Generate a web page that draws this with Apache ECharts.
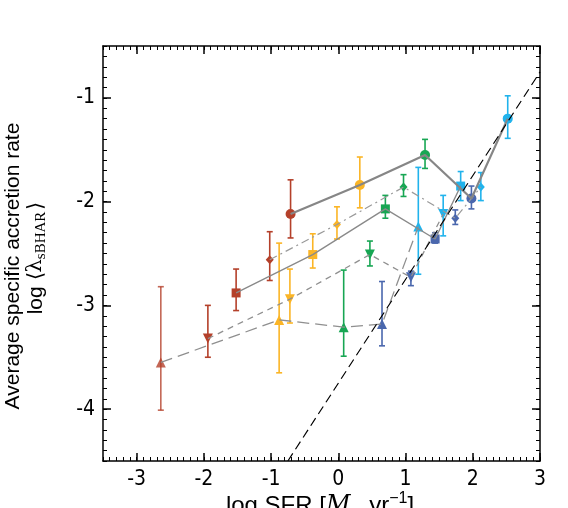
<!DOCTYPE html>
<html><head><meta charset="utf-8">
<script src="https://cdn.jsdelivr.net/npm/echarts@6/dist/echarts.min.js"></script>
<style>html,body{margin:0;padding:0;background:#fff}#c{width:568px;height:508px}</style>
</head><body><div id="c"></div><script>
// Axis tick labels
const xTicks = [-3, -2, -1, 0, 1, 2, 3];
const yTicks = [-4, -3, -2, -1];
// Order inside every group: [triangle-up, triangle-down, square, diamond, circle]
const redX  = [-2.64, -1.94, -1.52, -1.02, -0.71];
const redY  = [-3.55, -3.32, -2.88, -2.56, -2.12];
const redHi = [-2.82, -3.00, -2.65, -2.29, -1.79];
const redLo = [-4.01, -3.50, -3.05, -2.76, -2.35];

const orangeX  = [-0.88, -0.72, -0.38, -0.02, 0.32];
const orangeY  = [-3.14, -2.94, -2.51, -2.22, -1.84];
const orangeHi = [-2.40, -2.65, -2.31, -2.05, -1.57];
const orangeLo = [-3.65, -3.17, -2.64, -2.36, -2.06];

const greenX  = [0.08, 0.47, 0.70, 0.97, 1.29];
const greenY  = [-3.21, -2.51, -2.07, -1.86, -1.55];
const greenHi = [-2.66, -2.38, -1.94, -1.74, -1.40];
const greenLo = [-3.49, -2.62, -2.16, -1.95, -1.68];

const dblueX  = [0.65, 1.08, 1.44, 1.74, 1.98];
const dblueY  = [-3.18, -2.73, -2.36, -2.16, -1.97];
const dblueHi = [-2.77, -2.67, -2.30, -2.08, -1.85];
const dblueLo = [-3.39, -2.81, -2.40, -2.22, -2.07];

const lblueX  = [1.19, 1.56, 1.82, 2.12, 2.52];
const lblueY  = [-2.24, -2.12, -1.85, -1.86, -1.20];
const lblueHi = [-1.67, -1.94, -1.71, -1.72, -0.98];
const lblueLo = [-2.70, -2.33, -1.99, -1.99, -1.39];

// one-to-one reference line (dashed black)
const refLineX = [-0.75, 3.0];
const refLineY = [-4.5, -0.75];

const groups = [
  {x: redX, y: redY, hi: redHi, lo: redLo, color: '#b4402a'},
  {x: orangeX, y: orangeY, hi: orangeHi, lo: orangeLo, color: '#fbb526'},
  {x: greenX, y: greenY, hi: greenHi, lo: greenLo, color: '#17a653'},
  {x: dblueX, y: dblueY, hi: dblueHi, lo: dblueLo, color: '#4a67ad'},
  {x: lblueX, y: lblueY, hi: lblueHi, lo: lblueLo, color: '#21b3ec'}
];
const shapes = [
  {symbol: 'triangle', size: 10, rot: 0},
  {symbol: 'triangle', size: 10, rot: 180},
  {symbol: 'rect', size: 9, rot: 0},
  {symbol: 'diamond', size: [8, 9], rot: 0},
  {symbol: 'circle', size: 10, rot: 0}
];
const lineStyles = [
  {type: [12, 6], width: 1.3, color: '#8f8f8f'},
  {type: [6, 5], width: 1.3, color: '#8f8f8f'},
  {type: 'solid', width: 1.4, color: '#8a8a8a'},
  {type: [8, 4, 2, 4], width: 1.2, color: '#9a9a9a'},
  {type: 'solid', width: 2.2, color: '#868686'}
];

const XMIN = -3.5, XMAX = 3, YMIN = -4.5, YMAX = -0.5;
const FONT = '"Liberation Sans", Arial, Helvetica, sans-serif';
const TICKFONT = '"Liberation Sans Narrow", "DejaVu Sans Condensed", "Liberation Sans", sans-serif';

function xAxisDef(pos, major) {
  return {
    type: 'value', gridIndex: 0, position: pos, min: XMIN, max: XMAX,
    interval: major ? 0.5 : 0.1,
    axisLine: {show: !major, onZero: false, lineStyle: {color: '#000', width: 1.5}},
    axisTick: major ? {show: true, inside: true, length: 8, customValues: xTicks, lineStyle: {color: '#000', width: 1.5}}
                    : {show: true, inside: true, length: 4, lineStyle: {color: '#000', width: 1}},
    axisLabel: (major && pos === 'bottom') ? {show: true, customValues: xTicks, margin: 8, color: '#000', fontSize: 21, fontFamily: TICKFONT} : {show: false},
    splitLine: {show: false}
  };
}
function yAxisDef(pos, major) {
  return {
    type: 'value', gridIndex: 0, position: pos, min: YMIN, max: YMAX,
    interval: major ? 0.5 : 0.1,
    axisLine: {show: !major, onZero: false, lineStyle: {color: '#000', width: 1.5}},
    axisTick: major ? {show: true, inside: true, length: 8, customValues: yTicks, lineStyle: {color: '#000', width: 1.5}}
                    : {show: true, inside: true, length: 4, lineStyle: {color: '#000', width: 1}},
    axisLabel: (major && pos === 'left') ? {show: true, customValues: yTicks, margin: 8, color: '#000', fontSize: 21, fontFamily: TICKFONT} : {show: false},
    splitLine: {show: false}
  };
}

const series = [];
groups.forEach(function (g, gi) {
  series.push({
    type: 'custom', xAxisIndex: 0, yAxisIndex: 0, z: 1, silent: true,
    data: g.x.map(function (v, i) { return [v, g.lo[i], g.hi[i]]; }),
    renderItem: function (params, api) {
      const x = api.value(0);
      const p1 = api.coord([x, api.value(2)]);
      const p2 = api.coord([x, api.value(1)]);
      const w = 3;
      const st = {stroke: g.color, lineWidth: 1.6, opacity: (gi === 0 && params.dataIndex === 0) ? 0.8 : 1};
      return {type: 'group', children: [
        {type: 'line', shape: {x1: p1[0], y1: p1[1], x2: p2[0], y2: p2[1]}, style: st},
        {type: 'line', shape: {x1: p1[0] - w, y1: p1[1], x2: p1[0] + w, y2: p1[1]}, style: st},
        {type: 'line', shape: {x1: p2[0] - w, y1: p2[1], x2: p2[0] + w, y2: p2[1]}, style: st}
      ]};
    }
  });
  series.push({
    type: 'scatter', xAxisIndex: 0, yAxisIndex: 0, z: 2, silent: true,
    data: g.x.map(function (v, i) {
      return {value: [v, g.y[i]], symbol: shapes[i].symbol, symbolSize: shapes[i].size, symbolRotate: shapes[i].rot,
              itemStyle: {opacity: (gi === 0 && i === 0) ? 0.8 : 1}};
    }),
    itemStyle: {color: g.color}
  });
});
shapes.forEach(function (s, si) {
  series.push({
    type: 'line', xAxisIndex: 0, yAxisIndex: 0, z: 3, silent: true, symbol: 'none',
    data: groups.map(function (g) { return [g.x[si], g.y[si]]; }),
    lineStyle: {type: lineStyles[si].type, width: lineStyles[si].width, color: lineStyles[si].color}
  });
});
series.push({
  type: 'line', xAxisIndex: 0, yAxisIndex: 0, z: 4, silent: true, symbol: 'none',
  data: refLineX.map(function (v, i) { return [v, refLineY[i]]; }),
  lineStyle: {type: [9, 5], width: 1.2, color: '#000'}
});

const chart = echarts.init(document.getElementById('c'), null, {renderer: 'canvas'});
chart.setOption({
  animation: false,
  backgroundColor: '#fff',
  grid: {left: 103, right: 28, top: 46, bottom: 47, containLabel: false},
  xAxis: [xAxisDef('bottom', false), xAxisDef('bottom', true), xAxisDef('top', false), xAxisDef('top', true)],
  yAxis: [yAxisDef('left', false), yAxisDef('left', true), yAxisDef('right', false), yAxisDef('right', true)],
  series: series,
  graphic: [
    {type: 'text', x: 13, y: 266, rotation: Math.PI / 2, silent: true,
     style: {text: 'Average specific accretion rate', fontSize: 21, fontFamily: FONT, fill: '#000', align: 'center', verticalAlign: 'middle'}},
    {type: 'text', x: 36, y: 258, rotation: Math.PI / 2, silent: true,
     style: {text: '{a|log ⟨}{l|λ}{s|sBHAR}{a|⟩}', fill: '#000', align: 'center', verticalAlign: 'middle',
       rich: {
         a: {fontSize: 21, fontFamily: FONT, lineHeight: 26, verticalAlign: 'middle'},
         l: {fontSize: 21, fontFamily: '"DejaVu Serif", "Liberation Serif", serif', lineHeight: 26, verticalAlign: 'middle'},
         s: {fontSize: 15, fontFamily: '"Liberation Serif", "DejaVu Serif", serif', lineHeight: 26, verticalAlign: 'bottom', padding: [0, 2, 0, 0]}
       }}},
    {type: 'text', x: 320, y: 506, silent: true,
     style: {text: '{a|log SFR [}{m|M}{sub|⊙}{a| yr}{sup|−1}{a|]}', fill: '#000', align: 'center', verticalAlign: 'middle',
       rich: {
         a: {fontSize: 24, fontFamily: FONT, lineHeight: 30, verticalAlign: 'middle'},
         m: {fontSize: 24, fontFamily: '"DejaVu Serif", serif', fontStyle: 'italic', lineHeight: 30, verticalAlign: 'middle'},
         sub: {fontSize: 14, fontFamily: FONT, lineHeight: 30, verticalAlign: 'bottom'},
         sup: {fontSize: 16, fontFamily: FONT, lineHeight: 30, verticalAlign: 'top'}
       }}}
  ]
});
</script></body></html>
